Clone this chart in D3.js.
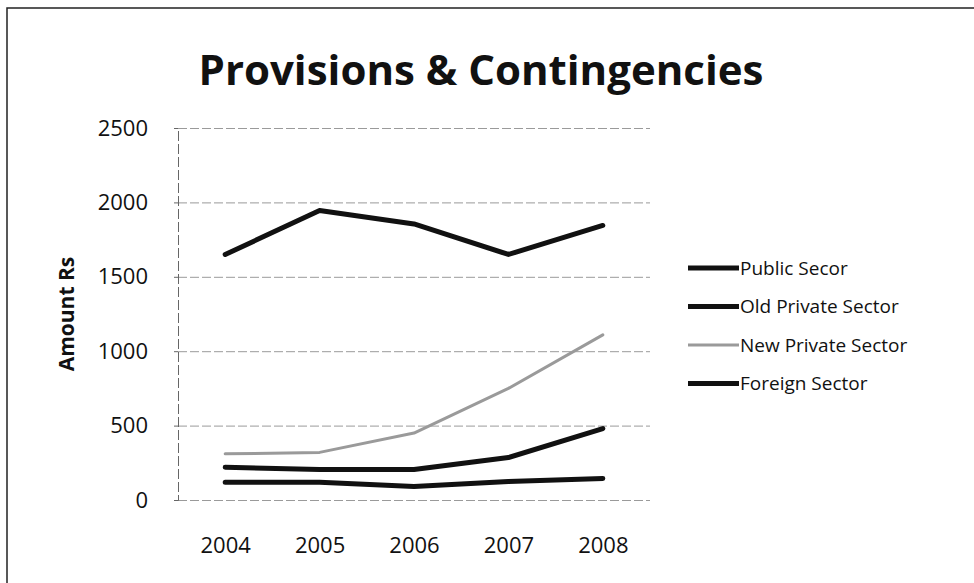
<!DOCTYPE html>
<html>
<head>
<meta charset="utf-8">
<script src="https://cdn.jsdelivr.net/npm/d3@7"></script>
<style>
  body { margin: 0; background: #fff; }
  svg text { font-family: "Open Sans", sans-serif; fill: #111; }
</style>
</head>
<body>
<svg id="chart" width="974" height="583"></svg>
<script>
(() => {
    // data
    const years = ["2004", "2005", "2006", "2007", "2008"];
    const seriesNames = ["Public Secor", "Old Private Sector", "New Private Sector", "Foreign Sector"];
    const publicSector = [1650, 1945, 1855, 1650, 1845];
    const oldPrivate = [220, 205, 205, 285, 480];
    const newPrivate = [310, 320, 450, 750, 1110];
    const foreignSector = [120, 120, 90, 125, 145];
    const yTicks = [0, 500, 1000, 1500, 2000, 2500];
    const seriesColors = ["#111", "#111", "#9a9a9a", "#111"];

    const svg = d3.select("svg#chart");
    const plot = { left: 178, right: 650, top: 128, bottom: 500 };

    // outer frame (only top and left edges show in the scan)
    svg.append("path")
        .attr("d", "M7,583 L7,8 L974,8")
        .attr("fill", "none")
        .attr("stroke", "#222")
        .attr("stroke-width", 1.5);

    // title
    svg.append("text")
        .attr("x", 481)
        .attr("y", 85)
        .attr("text-anchor", "middle")
        .attr("font-size", 42)
        .attr("font-weight", "bold")
        .text("Provisions & Contingencies");

    // scales
    const xScale = d3.scalePoint()
        .domain(years)
        .range([plot.left, plot.right])
        .padding(0.5);

    const yScale = d3.scaleLinear()
        .domain([0, 2500])
        .range([plot.bottom, plot.top]);

    // gridlines
    svg.append("g")
        .attr("transform", `translate(${plot.left},0)`)
        .call(d3.axisLeft(yScale).tickValues(yTicks)
            .tickSize(-(plot.right - plot.left)).tickFormat(""))
        .call(g => g.select(".domain").remove())
        .call(g => g.selectAll("line")
            .attr("stroke", "#9a9a9a")
            .attr("stroke-dasharray", "9,3"));

    // y axis line + labels
    const yAxis = svg.append("g")
        .attr("transform", `translate(${plot.left},0)`)
        .call(d3.axisLeft(yScale).tickValues(yTicks)
            .tickFormat(d3.format("d")).tickSize(4).tickPadding(26));
    yAxis.select(".domain").attr("stroke", "#666").attr("stroke-dasharray", "10,3");
    yAxis.selectAll("line").attr("stroke", "#666");
    yAxis.selectAll("text")
        .attr("font-size", 22)
        .attr("font-family", "Open Sans, sans-serif")
        .attr("fill", "#111");

    // x axis labels
    const xAxis = svg.append("g")
        .attr("transform", `translate(0,${plot.bottom})`)
        .call(d3.axisBottom(xScale).tickSize(0).tickPadding(37));
    xAxis.select(".domain").remove();
    xAxis.selectAll("text")
        .attr("font-size", 22)
        .attr("font-family", "Open Sans, sans-serif")
        .attr("fill", "#111");

    // y axis title
    svg.append("text")
        .attr("transform", "translate(74,314) rotate(-90)")
        .attr("text-anchor", "middle")
        .attr("font-size", 21)
        .attr("font-weight", "bold")
        .text("Amount Rs");

    // lines
    const allSeries = [publicSector, oldPrivate, newPrivate, foreignSector];
    const line = d3.line()
        .x((d, i) => xScale(years[i]))
        .y(d => yScale(d));

    svg.append("g")
        .selectAll("path")
        .data(allSeries)
        .join("path")
        .attr("d", line)
        .attr("fill", "none")
        .attr("stroke", (d, i) => seriesColors[i])
        .attr("stroke-width", (d, i) => i === 2 ? 3 : 5)
        .attr("stroke-linejoin", "round")
        .attr("stroke-linecap", "round");

    // legend
    const legend = svg.append("g")
        .selectAll("g")
        .data(seriesNames)
        .join("g")
        .attr("transform", (d, i) => `translate(688,${268 + i * 38.5})`);

    legend.append("line")
        .attr("x1", 0).attr("x2", 51)
        .attr("stroke", (d, i) => seriesColors[i])
        .attr("stroke-width", (d, i) => i === 2 ? 3 : 5);

    legend.append("text")
        .attr("x", 52)
        .attr("dy", "0.35em")
        .attr("font-size", 19)
        .text(d => d);
})();
</script>
</body>
</html>
